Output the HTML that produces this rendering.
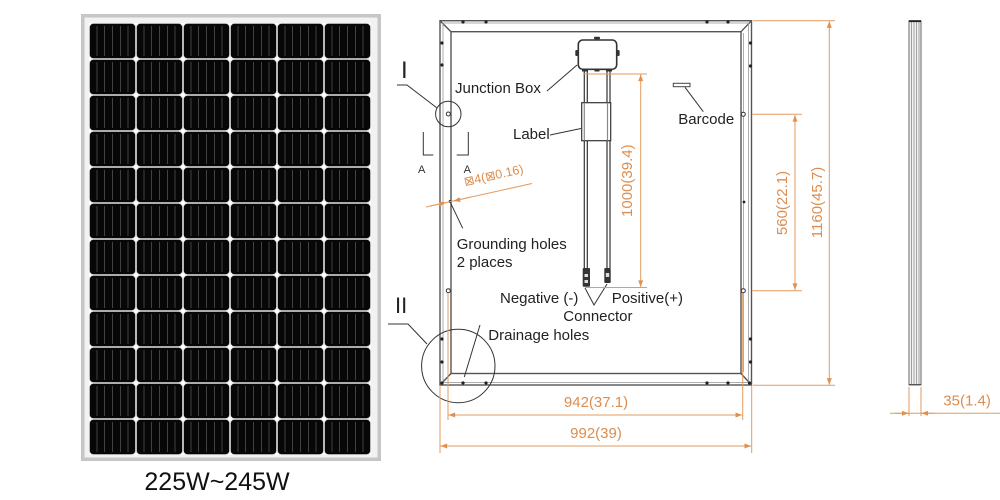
<!DOCTYPE html>
<html>
<head>
<meta charset="utf-8">
<style>
html,body{margin:0;padding:0;background:#fff;}
body{width:1000px;height:500px;overflow:hidden;}
svg{display:block;}
text{font-family:"Liberation Sans",Arial,sans-serif;}
</style>
</head>
<body>
<svg width="1000" height="500" viewBox="0 0 1000 500" xmlns="http://www.w3.org/2000/svg">
<defs>
  <pattern id="cell" x="89" y="23" width="47" height="36" patternUnits="userSpaceOnUse">
    <rect width="47" height="36" fill="#e4e4e4"/>
    <rect x="0.8" y="0.8" width="45.4" height="34.4" rx="3.5" fill="#070707"/>
    <path d="M8 3V33M15.5 3V33M23.5 3V33M31.5 3V33M39 3V33" stroke="#505050" stroke-width="0.8"/>
    <circle cx="0" cy="0" r="2" fill="#fff"/>
    <circle cx="47" cy="0" r="2" fill="#fff"/>
    <circle cx="0" cy="36" r="2" fill="#fff"/>
    <circle cx="47" cy="36" r="2" fill="#fff"/>
  </pattern>
  <marker id="ar" viewBox="0 0 8 6" refX="8" refY="3" markerWidth="7" markerHeight="5" markerUnits="userSpaceOnUse" orient="auto-start-reverse">
    <path d="M0,0 L8,3 L0,6 z" fill="#e0904f"/>
  </marker>
</defs>

<!-- ===== Solar panel photo ===== -->
<rect x="81" y="14" width="300" height="447" fill="#c6c6c6"/>
<rect x="84.5" y="17.5" width="293" height="440" fill="#f2f2f2"/>
<rect x="89" y="23" width="282" height="432" fill="url(#cell)"/>
<text x="217" y="490" font-size="25" text-anchor="middle" fill="#111">225W~245W</text>

<!-- ===== Back view drawing ===== -->
<g fill="none" stroke="#555" stroke-width="1.4">
  <rect x="440" y="20.7" width="311.5" height="364.3"/>
  <rect x="451" y="31.7" width="290" height="341.8"/>
  <line x1="440" y1="20.7" x2="451" y2="31.7"/>
  <line x1="751.5" y1="20.7" x2="741" y2="31.7"/>
  <line x1="440" y1="385" x2="451" y2="373.5"/>
  <line x1="751.5" y1="385" x2="741" y2="373.5"/>
</g>
<g fill="none" stroke="#999" stroke-width="0.8">
  <rect x="443" y="23" width="305.5" height="359.5"/>
  <line x1="743.5" y1="33" x2="743.5" y2="372"/>
</g>
<!-- holes / dots -->
<g fill="#222">
  <circle cx="442" cy="43" r="1.6"/><circle cx="442" cy="65" r="1.6"/>
  <circle cx="463" cy="22" r="1.6"/><circle cx="486" cy="22" r="1.6"/>
  <circle cx="707" cy="22" r="1.6"/><circle cx="728" cy="22" r="1.6"/>
  <circle cx="750.5" cy="43" r="1.6"/><circle cx="750.5" cy="66" r="1.6"/>
  <circle cx="442" cy="339" r="1.6"/><circle cx="442" cy="362" r="1.6"/>
  <circle cx="463" cy="383" r="1.6"/><circle cx="486" cy="383" r="1.6"/>
  <circle cx="707" cy="383" r="1.6"/><circle cx="728" cy="383" r="1.6"/>
  <circle cx="750.5" cy="339" r="1.6"/><circle cx="750.5" cy="362" r="1.6"/>
  <circle cx="744" cy="202" r="1.4"/>
  <circle cx="442" cy="383" r="1.6"/><circle cx="749.5" cy="383" r="1.6"/>
  <circle cx="450" cy="201.5" r="1.4"/>
</g>
<g fill="#fff" stroke="#333" stroke-width="1">
  <circle cx="743.3" cy="114.3" r="2"/>
  <circle cx="743.3" cy="290.7" r="2"/>
  <circle cx="448.3" cy="290.7" r="2"/>
  <circle cx="448.3" cy="114" r="2"/>
</g>

<!-- detail circles & labels -->
<g fill="none" stroke="#333" stroke-width="1">
  <circle cx="448.3" cy="114" r="12.7"/>
  <circle cx="458.3" cy="366" r="36.7"/>
  <polyline points="397,85 407,85 437,108"/>
  <polyline points="388,324 408,324 427,344"/>
  <polyline points="423.3,132 423.3,155 433.3,155"/>
  <polyline points="468.3,132 468.3,155 456.7,155"/>
  <line x1="450" y1="201.7" x2="462.7" y2="228.3"/>
  <line x1="480" y1="325" x2="464.3" y2="377"/>
  <line x1="547" y1="91" x2="577" y2="65"/>
  <line x1="550" y1="135" x2="581" y2="128.5"/>
  <line x1="685" y1="87.3" x2="703.3" y2="111.7"/>
  <polyline points="585,288 594,305 607,284"/>
</g>
<text x="401" y="78" font-size="24" fill="#222">I</text>
<text x="395" y="313" font-size="22" fill="#222">II</text>
<text x="421.7" y="173" font-size="11" text-anchor="middle" fill="#333">A</text>
<text x="467.3" y="173" font-size="11" text-anchor="middle" fill="#333">A</text>

<!-- junction box & cables -->
<g stroke="#333" stroke-width="1.2" fill="none">
  <line x1="584.3" y1="69" x2="584.3" y2="268"/>
  <line x1="587.3" y1="69" x2="587.3" y2="268"/>
  <line x1="607" y1="69" x2="607" y2="268"/>
  <line x1="610" y1="69" x2="610" y2="268"/>
  <rect x="581.7" y="102.7" width="29" height="38" fill="#fff"/>
  <line x1="584.3" y1="102.7" x2="584.3" y2="140.7" stroke="#888"/>
  <line x1="607.5" y1="102.7" x2="607.5" y2="140.7" stroke="#888"/>
  <rect x="578.3" y="40" width="38.4" height="29.3" rx="4.5" fill="#fff" stroke-width="1.6"/>
</g>
<g fill="#333">
  <rect x="594" y="36.8" width="6" height="2.6" rx="1"/>
  <rect x="575.3" y="50" width="2.6" height="6" rx="1"/>
  <rect x="617" y="50" width="2.6" height="6" rx="1"/>
  <rect x="582" y="69" width="6" height="2.5"/>
  <rect x="594.5" y="69" width="5" height="2.5"/>
  <rect x="606" y="69" width="6" height="2.5"/>
  <rect x="582.7" y="268" width="7.3" height="18.7" rx="1"/>
  <rect x="604.3" y="268" width="6.4" height="15" rx="1"/>
</g>
<g fill="#ddd">
  <rect x="584.5" y="274" width="3.5" height="3"/>
  <rect x="584.5" y="280" width="3.5" height="3"/>
  <rect x="605.8" y="273" width="3.4" height="4"/>
</g>
<rect x="673.3" y="83.3" width="16.7" height="3.4" fill="#fff" stroke="#444" stroke-width="1"/>

<g font-size="15" fill="#222">
  <text x="455" y="93">Junction Box</text>
  <text x="513" y="139">Label</text>
  <text x="678.3" y="124">Barcode</text>
  <text x="456.7" y="249">Grounding holes</text>
  <text x="456.7" y="267">2 places</text>
  <text x="500" y="303">Negative (-)</text>
  <text x="611.7" y="303">Positive(+)</text>
  <text x="563.3" y="321">Connector</text>
  <text x="488.3" y="340">Drainage holes</text>
</g>

<!-- ===== Orange dimensions ===== -->
<g stroke="#e39b60" stroke-width="1" fill="none">
  <!-- 1000 -->
  <line x1="583" y1="74" x2="647" y2="74"/>
  <line x1="585" y1="287.5" x2="647" y2="287.5"/>
  <line x1="640.7" y1="74.5" x2="640.7" y2="287" marker-start="url(#ar)" marker-end="url(#ar)"/>
  <!-- 560 -->
  <line x1="752" y1="114.3" x2="802" y2="114.3"/>
  <line x1="752" y1="290.7" x2="802" y2="290.7"/>
  <line x1="795" y1="115" x2="795" y2="290" marker-start="url(#ar)" marker-end="url(#ar)"/>
  <!-- 1160 -->
  <line x1="753" y1="20.7" x2="835" y2="20.7"/>
  <line x1="753" y1="385.3" x2="835" y2="385.3"/>
  <line x1="829.3" y1="21.2" x2="829.3" y2="384.8" marker-start="url(#ar)" marker-end="url(#ar)"/>
  <!-- 942 -->
  <line x1="448" y1="293" x2="448" y2="420"/>
  <line x1="742.7" y1="293" x2="742.7" y2="420"/>
  <line x1="448.5" y1="415" x2="742.2" y2="415" marker-start="url(#ar)" marker-end="url(#ar)"/>
  <!-- 992 -->
  <line x1="440" y1="386" x2="440" y2="453"/>
  <line x1="751.7" y1="386" x2="751.7" y2="453"/>
  <line x1="440.5" y1="446" x2="751.2" y2="446" marker-start="url(#ar)" marker-end="url(#ar)"/>
  <!-- grounding hole dim -->
  <line x1="426" y1="207" x2="532" y2="183.5"/>
  <line x1="430" y1="206" x2="446" y2="202.5" marker-end="url(#ar)"/>
  <line x1="470" y1="197.3" x2="453.5" y2="201" marker-end="url(#ar)"/>
  <!-- side 35 -->
  <line x1="909" y1="387" x2="909" y2="416"/>
  <line x1="921" y1="387" x2="921" y2="416"/>
  <line x1="890" y1="413.3" x2="1000" y2="413.3"/>
  <line x1="895" y1="413.3" x2="908.6" y2="413.3" marker-end="url(#ar)"/>
  <line x1="935" y1="413.3" x2="921.4" y2="413.3" marker-end="url(#ar)"/>
</g>
<g font-size="15" fill="#dc8d4f">
  <text transform="translate(632,180.7) rotate(-90)" text-anchor="middle">1000(39.4)</text>
  <text transform="translate(787,203) rotate(-90)" text-anchor="middle">560(22.1)</text>
  <text transform="translate(822,202.5) rotate(-90)" text-anchor="middle">1160(45.7)</text>
  <text x="596" y="407" text-anchor="middle">942(37.1)</text>
  <text x="596" y="438" text-anchor="middle">992(39)</text>
  <text x="943.3" y="405.5">35(1.4)</text>
  <text transform="translate(465,186) rotate(-12.6)" font-size="12.5" font-family="'DejaVu Sans',sans-serif">⊠4(⊠0.16)</text>
</g>

<!-- ===== Side profile ===== -->
<rect x="909" y="20.7" width="12" height="364.3" fill="#f4f4f4" stroke="#666" stroke-width="1"/>
<g stroke="#888" stroke-width="0.8">
  <line x1="911.5" y1="21" x2="911.5" y2="385"/>
  <line x1="914" y1="21" x2="914" y2="385"/>
  <line x1="916.5" y1="21" x2="916.5" y2="385"/>
  <line x1="919" y1="21" x2="919" y2="385"/>
</g>
<line x1="909" y1="21.2" x2="921" y2="21.2" stroke="#222" stroke-width="1.8"/>
<line x1="909" y1="384.5" x2="921" y2="384.5" stroke="#555" stroke-width="1"/>
</svg>
</body>
</html>
